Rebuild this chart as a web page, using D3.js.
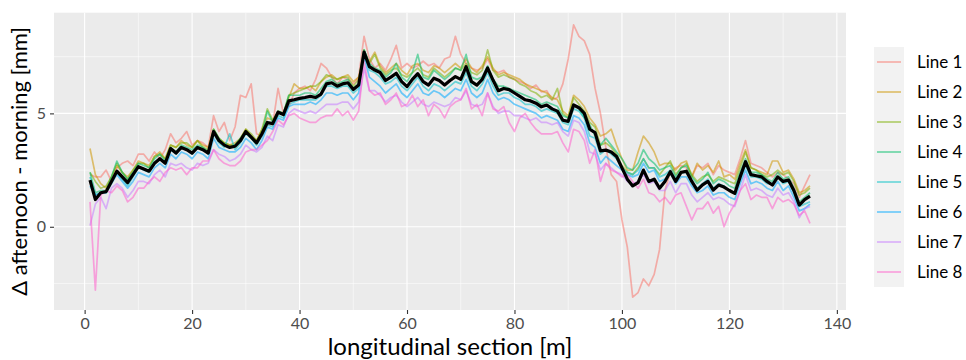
<!DOCTYPE html>
<html><head><meta charset="utf-8">
<script src="https://cdn.jsdelivr.net/npm/d3@7"></script>
<style>body{margin:0;background:#fff;} text{font-family:Lato,"Noto Sans",sans-serif;}</style>
</head><body><svg id="chart" width="966" height="360"></svg>
<script>
const seriesNames = ["Line 1","Line 2","Line 3","Line 4","Line 5","Line 6","Line 7","Line 8"];
const seriesColors = ["#F8766D","#CD9600","#7CAE00","#00BE67","#00BFC4","#00A9FF","#C77CFF","#FF61CC"];
const xTicks = [0,20,40,60,80,100,120,140];
const yTicks = [0,5];
const positions = d3.range(1,136);
const line1 = [2.3,2.2,2.2,2.5,2.0,2.6,2.8,2.9,2.7,3.2, 3.2,2.9,3.3,3.0,3.4,4.1,3.7,3.9,4.2,3.6, 3.8,3.7,3.5,4.9,4.2,4.6,3.8,4.4,5.8,5.7, 6.3,4.1,4.0,4.5,4.5,6.1,5.0,5.3,5.9,6.1, 6.2,6.0,6.5,7.2,7.0,6.6,6.3,6.6,6.5,6.3, 6.6,8.4,7.4,7.0,7.2,6.9,7.4,8.0,7.0,7.2, 7.0,7.1,7.3,7.1,7.2,7.0,7.4,7.5,8.4,7.6, 7.2,7.0,6.9,7.0,7.4,6.9,6.8,6.9,6.6,6.5, 6.4,6.3,6.1,6.25,5.95,6.0,5.6,5.7,6.3,7.4, 8.9,8.4,8.2,7.6,6.1,5.0,3.5,2.3,2.0,0.3, -0.9,-3.1,-2.9,-2.3,-2.6,-2.1,-1.0,1.6,2.4,2.6, 2.7,2.6,2.2,2.7,2.6,2.8,2.3,2.7,2.5,2.4, 2.3,3.0,3.8,2.8,2.7,2.6,2.4,2.2,2.4,2.3, 2.1,1.9,1.3,1.8,2.3];
const line2 = [3.45,2.3,1.9,1.7,2.2,2.7,2.4,2.2,2.5,2.9, 2.8,2.7,3.1,3.3,3.0,3.6,3.5,3.8,3.6,3.5, 3.8,3.6,3.5,4.3,3.9,3.7,3.6,3.7,3.9,4.3, 4.0,3.8,4.3,4.8,4.7,5.1,5.0,5.7,6.3,6.1, 6.1,6.2,6.0,6.4,6.6,6.7,6.5,6.6,6.7,6.4, 6.6,7.5,7.3,7.7,7.1,6.8,7.0,7.2,6.9,6.7, 7.1,7.2,6.9,6.8,7.1,7.0,6.8,7.0,7.2,7.0, 7.4,7.0,6.8,7.1,7.5,7.0,6.7,6.8,6.7,6.6, 6.5,6.3,6.2,6.1,6.0,5.9,5.7,5.6,5.1,4.9, 5.8,5.6,5.3,4.8,4.5,4.0,4.1,4.3,3.6,3.0, 2.5,2.5,3.3,4.0,3.7,3.3,2.7,2.8,2.8,2.5, 2.8,2.9,2.2,2.8,2.5,2.7,2.4,2.9,2.2,2.3, 2.1,2.8,3.4,2.6,2.5,2.4,2.3,2.9,2.9,2.4, 2.5,2.1,1.5,1.6,1.8];
const line3 = [2.4,2.0,1.7,1.8,2.2,2.8,2.4,2.1,2.5,2.8, 2.8,2.6,3.1,3.2,3.0,3.6,3.5,3.7,3.7,3.5, 3.8,3.5,3.4,4.3,3.9,3.7,3.6,3.6,3.9,4.3, 4.1,3.8,4.3,5.2,4.7,5.0,5.0,5.8,5.9,6.0, 6.1,6.2,6.2,6.4,6.7,6.6,6.5,6.6,6.6,6.2, 6.5,7.8,7.2,7.6,7.0,6.7,6.9,7.0,6.7,6.6, 6.8,7.0,6.7,6.6,7.0,6.8,6.6,6.8,7.0,6.9, 7.2,6.8,6.7,6.9,7.8,6.9,6.6,6.7,6.6,6.5, 6.3,6.2,6.0,5.9,5.7,5.8,5.6,6.1,5.0,4.8, 5.7,5.4,5.1,4.6,4.4,3.6,3.7,3.5,3.2,2.7, 2.4,2.3,2.6,3.0,2.6,2.6,2.3,2.6,2.9,2.3, 2.6,2.8,2.3,2.0,2.2,2.3,2.0,2.2,2.1,2.0, 1.9,2.6,3.3,2.6,2.5,2.3,2.2,2.3,2.5,2.3, 2.4,2.0,1.4,1.5,1.7];
const line4 = [2.4,1.5,1.6,1.6,2.2,2.9,2.4,2.1,2.4,2.8, 2.7,2.6,3.0,3.2,2.9,3.5,3.3,3.6,3.5,3.4, 3.6,3.5,3.3,4.3,3.9,3.6,3.5,3.6,3.9,4.2, 3.9,3.7,4.1,5.1,4.6,5.1,5.0,5.8,5.8,5.8, 5.9,5.9,5.8,6.1,6.4,6.5,6.3,6.4,6.5,6.1, 6.3,7.8,7.2,7.0,6.9,6.6,6.8,7.2,6.6,6.4, 6.8,7.6,6.6,6.5,6.9,6.7,6.5,6.7,7.0,6.9, 7.6,6.6,6.5,6.6,7.1,6.5,6.2,6.2,6.1,6.0, 5.9,5.8,5.7,5.6,5.4,5.5,5.4,5.3,4.9,4.8, 5.4,5.2,4.8,4.5,4.0,3.6,3.9,3.6,3.3,3.0, 2.6,2.5,2.8,3.4,3.0,2.8,2.5,2.6,2.7,2.2, 2.6,2.7,2.2,1.9,2.1,2.4,1.9,2.1,2.0,1.8, 1.7,2.4,3.0,2.4,2.4,2.3,2.1,2.0,2.4,2.1, 2.2,1.7,1.1,1.3,1.5];
const line5 = [2.2,1.4,1.5,1.5,2.0,2.4,2.1,1.8,2.2,2.6, 2.5,2.4,2.8,3.0,2.8,3.4,3.2,3.5,3.4,3.2, 3.5,3.4,3.2,4.1,3.7,3.5,4.1,3.4,3.7,4.1, 3.9,3.6,4.0,4.5,4.4,4.9,4.8,5.4,5.5,5.6, 5.6,5.6,5.6,5.8,6.2,6.2,6.1,6.2,6.2,5.9, 6.1,7.6,6.9,6.8,6.6,6.3,6.4,6.6,6.2,6.0, 6.3,6.6,6.2,6.0,6.3,6.2,6.0,6.2,6.4,6.3, 6.8,6.2,6.0,6.3,6.8,6.2,5.8,5.9,5.9,5.7, 5.6,5.4,5.4,5.3,5.1,5.2,5.1,5.0,4.6,4.5, 5.2,5.1,4.8,4.0,3.9,3.2,3.4,3.2,3.0,2.6, 2.4,2.3,2.5,3.0,2.6,2.6,2.2,2.3,2.5,2.1, 2.4,2.4,2.0,1.7,1.9,2.1,1.7,1.9,1.8,1.6, 1.5,2.1,2.7,2.2,2.2,2.1,1.9,1.9,2.2,1.9, 2.0,1.5,0.9,1.0,1.1];
const line6 = [1.8,1.4,1.5,1.5,1.9,2.3,2.0,1.7,2.0,2.4, 2.3,2.2,2.6,2.8,2.6,3.2,3.0,3.3,3.2,3.0, 3.3,3.2,3.0,3.9,3.5,3.4,3.3,3.3,3.5,3.9, 3.7,3.4,3.8,4.4,4.3,4.8,4.7,5.3,5.4,5.4, 5.4,5.5,5.4,5.6,5.9,5.9,5.8,5.9,5.9,5.6, 5.9,7.5,6.6,6.4,6.2,5.9,6.1,6.3,5.9,5.7, 6.0,6.3,5.9,5.8,6.0,5.9,5.7,5.9,6.1,6.0, 6.5,5.9,5.7,5.9,6.5,5.9,5.6,5.7,5.6,5.4, 5.3,5.2,5.1,5.0,4.8,4.9,4.8,4.7,4.3,4.2, 4.9,4.8,4.5,3.7,3.5,2.8,3.1,2.9,2.7,2.5, 2.3,2.2,2.3,2.8,2.4,2.5,2.0,2.1,2.4,1.9, 2.2,2.2,1.8,1.5,1.6,1.8,1.4,1.5,1.5,1.3, 1.2,1.9,2.5,1.9,2.0,1.9,1.7,1.6,2.0,1.6, 1.8,1.3,0.7,0.8,1.0];
const line7 = [0.05,1.0,1.3,0.8,1.7,1.9,1.7,1.3,1.6,2.0, 2.0,1.9,2.3,2.5,2.2,2.8,2.7,2.8,2.6,2.5, 2.8,2.7,2.8,3.4,3.2,3.1,2.9,3.0,3.2,3.6, 3.4,3.3,3.5,4.0,3.8,4.5,4.4,5.0,5.2,5.1, 5.0,5.1,5.0,5.2,5.4,5.4,5.4,5.5,5.5,5.2, 5.5,7.0,6.0,6.0,5.8,5.5,5.7,5.8,5.5,5.3, 5.5,5.7,5.4,5.3,5.5,5.4,5.3,5.4,5.7,5.6, 6.0,5.4,5.3,5.4,5.9,5.3,5.0,5.1,5.1,4.9, 4.9,4.8,4.7,4.8,4.6,4.6,4.5,4.6,4.2,4.0, 4.7,4.6,4.2,3.3,3.2,2.5,2.8,2.6,2.4,2.3, 2.0,1.9,2.0,2.3,1.9,2.0,1.6,1.6,2.0,1.5, 1.9,1.9,1.4,1.1,1.3,1.5,1.2,1.3,1.2,1.0, 0.9,1.6,2.3,1.6,1.7,1.6,1.4,1.3,1.7,1.4, 1.5,1.1,0.4,0.8,0.9];
const line8 = [1.1,-2.8,1.4,1.6,1.5,1.8,1.6,1.1,1.3,1.7, 1.7,2.0,2.2,2.0,2.4,2.6,2.5,2.6,2.3,2.6, 2.6,2.9,2.9,3.4,3.0,2.8,2.7,2.7,2.9,3.3, 3.4,3.4,3.6,3.8,4.2,4.7,4.5,4.9,5.0,4.8, 4.7,4.6,4.6,4.8,4.9,4.9,5.2,4.9,5.1,4.7, 5.1,7.3,6.0,5.8,5.9,5.4,5.6,5.9,5.3,5.4, 5.8,5.3,5.6,4.9,5.4,5.2,4.8,5.3,5.5,5.6, 6.1,5.2,5.4,4.9,5.9,5.2,5.1,5.3,4.6,4.2, 4.8,5.0,4.6,4.3,4.1,4.1,4.1,4.2,3.7,3.3, 4.3,4.2,3.8,2.8,3.4,2.0,2.8,2.5,2.4,2.2, 2.3,2.0,1.7,2.1,1.5,1.4,1.1,1.3,1.0,1.4, 1.5,0.9,0.3,0.8,0.8,1.1,0.6,0.9,0.0,0.6, 1.0,1.6,1.9,1.2,1.4,1.3,1.3,0.8,1.3,1.1, 1.2,1.0,0.5,0.7,0.15];
const meanLine = [2.06,1.20,1.50,1.55,2.00,2.45,2.20,1.95,2.30,2.65, 2.55,2.45,2.80,3.00,2.80,3.45,3.25,3.50,3.40,3.25, 3.50,3.40,3.25,4.20,3.80,3.60,3.50,3.55,3.80,4.20, 3.95,3.70,4.10,4.60,4.55,5.05,4.95,5.55,5.60,5.66, 5.70,5.75,5.70,5.85,6.30,6.35,6.20,6.30,6.35,6.05, 6.25,7.70,7.06,6.91,6.80,6.45,6.60,6.77,6.40,6.18, 6.50,6.75,6.40,6.25,6.55,6.45,6.25,6.45,6.62,6.50, 7.06,6.40,6.25,6.50,7.00,6.47,6.00,6.10,6.05,5.90, 5.75,5.60,5.55,5.45,5.29,5.37,5.20,5.10,4.70,4.65, 5.37,5.25,5.00,4.30,4.15,3.35,3.38,3.30,3.10,2.60, 2.10,1.80,1.95,2.50,2.00,2.10,1.70,2.00,2.43,2.00, 2.40,2.45,2.00,1.62,1.85,2.00,1.62,1.84,1.75,1.60, 1.47,2.20,2.87,2.30,2.25,2.20,2.00,1.84,2.20,2.00, 2.06,1.60,0.96,1.20,1.35];
const allLines = [line1,line2,line3,line4,line5,line6,line7,line8];

const svg = d3.select("#chart");
const P = {l:54, r:846, t:12.7, b:310};
const x = d3.scaleLinear().domain([-5.7,141.7]).range([P.l,P.r]);
const y = d3.scaleLinear().domain([-3.67,9.44]).range([P.b,P.t]);

svg.append("rect").attr("x",P.l).attr("y",P.t).attr("width",P.r-P.l).attr("height",P.b-P.t).attr("fill","#EBEBEB");
const g = svg.append("g");
[10,30,50,70,90,110,130].forEach(v=>g.append("line").attr("x1",x(v)).attr("x2",x(v)).attr("y1",P.t).attr("y2",P.b).attr("stroke","#fff").attr("stroke-width",0.55));
[-2.5,2.5,7.5].forEach(v=>g.append("line").attr("y1",y(v)).attr("y2",y(v)).attr("x1",P.l).attr("x2",P.r).attr("stroke","#fff").attr("stroke-width",0.55));
xTicks.forEach(v=>g.append("line").attr("x1",x(v)).attr("x2",x(v)).attr("y1",P.t).attr("y2",P.b).attr("stroke","#fff").attr("stroke-width",1.1));
yTicks.forEach(v=>g.append("line").attr("y1",y(v)).attr("y2",y(v)).attr("x1",P.l).attr("x2",P.r).attr("stroke","#fff").attr("stroke-width",1.1));

const lineGen = d3.line().x((d,i)=>x(positions[i])).y(d=>y(d));
allLines.forEach((arr,k)=>{
  svg.append("path").datum(arr).attr("d",lineGen).attr("fill","none")
    .attr("stroke",seriesColors[k]).attr("stroke-opacity",0.55).attr("stroke-width",1.7).attr("stroke-linejoin","round");
});
svg.append("path").datum(meanLine).attr("d",lineGen).attr("fill","none")
  .attr("stroke","#000").attr("stroke-width",3.2).attr("stroke-linejoin","round");

const xAxis = svg.append("g").attr("transform",`translate(0,${P.b})`)
  .call(d3.axisBottom(x).tickValues(xTicks).tickSize(4).tickPadding(4));
const yAxis = svg.append("g").attr("transform",`translate(${P.l},0)`)
  .call(d3.axisLeft(y).tickValues(yTicks).tickSize(4).tickPadding(4));
[xAxis,yAxis].forEach(a=>{
  a.select(".domain").remove();
  a.selectAll(".tick line").attr("stroke","#333").attr("stroke-width",1.1);
  a.selectAll(".tick text").attr("fill","#4D4D4D").style("font-size","16px").style("font-family","Lato, 'Noto Sans', sans-serif");
});

svg.append("text").attr("x",(P.l+P.r)/2).attr("y",355).attr("text-anchor","middle")
  .style("font-size","24px").attr("fill","#000").text("longitudinal section [m]");
svg.append("text").attr("transform",`translate(27,${(P.t+P.b)/2}) rotate(-90)`).attr("text-anchor","middle")
  .style("font-size","22px").attr("fill","#000").text("Δ afternoon - morning [mm]");

const lg = svg.append("g");
lg.append("rect").attr("x",874).attr("y",47).attr("width",30).attr("height",240).attr("fill","#F2F2F2");
seriesNames.forEach((n,i)=>{
  const cy = 62 + i*30;
  lg.append("line").attr("x1",877).attr("x2",901).attr("y1",cy).attr("y2",cy)
    .attr("stroke",seriesColors[i]).attr("stroke-opacity",0.55).attr("stroke-width",1.7);
  lg.append("text").attr("x",917).attr("y",cy).attr("dy","0.35em").style("font-size","17px").attr("fill","#000").text(n);
});
</script></body></html>
